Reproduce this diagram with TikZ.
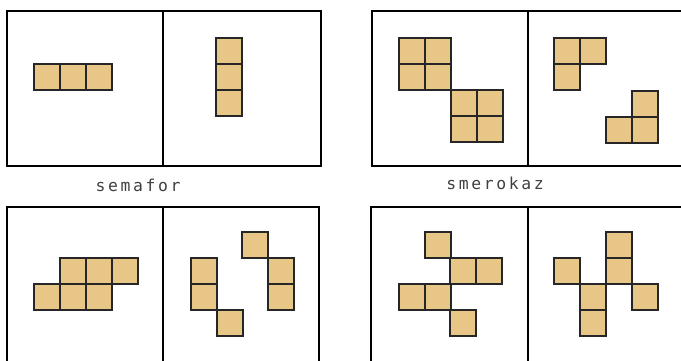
\documentclass[tikz,border=0pt]{standalone}
\usepackage{fontspec}
\usepackage{tikz}
\usetikzlibrary{positioning}
\newfontfamily\labelfont[LetterSpace=16]{DejaVu Sans Mono}
\definecolor{tan}{RGB}{232,198,136}

\begin{document}
\begin{tikzpicture}[x=0.03cm,y=-0.03cm,
  frame/.style={draw,line width=1.7pt},
  tile/.style={draw=black!85,fill=tan,line width=1.1pt},
  lbl/.style={font=\labelfont\fontsize{14}{16}\selectfont,text=black!75}]
\useasboundingbox (0,0) rectangle (681,360);
\clip (0,0) rectangle (681,360);
% frames
\draw[frame] (7,11) rectangle (321,166);
\draw[frame] (163,11) -- (163,166);
\draw[frame] (372,11) rectangle (686,166);
\draw[frame] (528,11) -- (528,166);
\draw[frame] (7,207) rectangle (319,364);
\draw[frame] (163,207) -- (163,364);
\draw[frame] (371,207) rectangle (686,364);
\draw[frame] (528,207) -- (528,364);
% tiles
\foreach \x/\y in {34/64,60/64,86/64, 216/38,216/64,216/90,
    399/38,425/38,399/64,425/64,451/90,477/90,451/116,477/116,
    554/38,580/38,554/64,632/91,606/117,632/117,
    60/258,86/258,112/258,34/284,60/284,86/284,
    191/258,191/284,217/310,242/232,268/258,268/284,
    425/232,450/258,476/258,399/284,425/284,450/310,
    554/258,580/284,580/310,606/232,606/258,632/284}
  \draw[tile] (\x,\y) rectangle ++(26,26);
% labels
\node[lbl] (sem) at (138,185) {semafor};
\node[lbl] (smer) at (495,183) {smerokaz};
\end{tikzpicture}
\end{document}
